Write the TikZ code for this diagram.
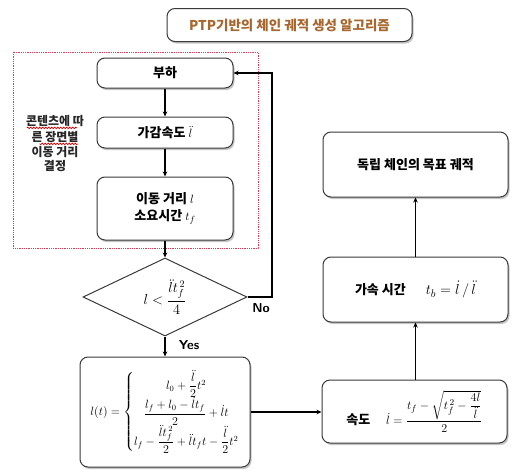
\documentclass[tikz,border=0pt]{standalone}
\usepackage{amsmath}
\usepackage{fontspec}
\newfontfamily\kr{Noto Sans CJK KR}
\usetikzlibrary{shapes.geometric,shadows,arrows.meta,decorations.pathmorphing}
\definecolor{titlebrown}{HTML}{A8672E}
\definecolor{boxline}{HTML}{3A3A3A}
\definecolor{dotred}{HTML}{D0405A}
\begin{document}
\begin{tikzpicture}[x=1pt,y=-1pt,
  box/.style={draw=boxline, line width=1pt, rounded corners=8pt, fill=white,
    drop shadow={opacity=0.45, shadow xshift=1.5pt, shadow yshift=-2pt},
    align=center, font=\kr\bfseries\fontsize{13}{16}\selectfont, inner sep=2pt},
  conn/.style={draw=black, line width=1.1pt, -{Stealth[length=5pt,width=4.5pt]}},
  lbl/.style={font=\sffamily\bfseries\fontsize{13}{15}\selectfont},
  notetxt/.style={font=\kr\bfseries\fontsize{12}{14}\selectfont, text=black!85, inner sep=0pt},
  squiggle/.style={draw=red!80!black, line width=0.7pt, decorate, decoration={snake, amplitude=0.7pt, segment length=3pt}}]
\useasboundingbox (0,0) rectangle (517,469);
\fill[white] (0,0) rectangle (517,469);
% title
\node[box, minimum width=245pt, minimum height=33pt, text=titlebrown, font=\kr\bfseries\fontsize{13.5}{16}\selectfont] (title) at (289.5,25) {PTP기반의 체인 궤적 생성 알고리즘};
% red dotted frame
\draw[dotred, densely dotted, line width=0.8pt] (13,52) rectangle (258,248);
\node[notetxt] (note1) at (55,121) {콘텐츠에 따};
\node[notetxt] (note2) at (55,137) {른 장면별};
\node[notetxt] (note3) at (55,152) {이동 거리};
\node[notetxt] (note4) at (55,166) {결정};
\draw[squiggle] (note1.south west) ++(1,1) -- ++(50,0);
\draw[squiggle] (note2.south east) ++(-1,1) -- ++(-38,0);
% boxes
\node[box, minimum width=136pt, minimum height=30pt] (buha) at (165,73) {부하};
\node[box, minimum width=136pt, minimum height=31pt] (accel) at (165,132.5) {가감속도 {\mdseries\fontsize{13}{15}\selectfont$\ddot{l}$}};
\node[box, minimum width=136pt, minimum height=63pt] (move) at (165,208.5) {이동 거리 {\mdseries\fontsize{13}{15}\selectfont$l$}\\[1pt]소요시간 {\mdseries\fontsize{13}{15}\selectfont$t_f$}};
\node[draw=boxline, line width=1pt, shape=diamond, fill=white, minimum width=164pt, minimum height=78pt, inner sep=0pt, font=\fontsize{14}{16}\selectfont] (dia) at (165,297) {$l<\dfrac{\ddot{l}t_f^{\,2}}{4}$};
\node[box, minimum width=170pt, minimum height=110pt, font=\fontsize{12}{14}\selectfont, inner sep=0pt] (lt) at (165,412)
  {$l(t)=\left\{\begin{array}{@{}c@{}}
     l_0+\dfrac{\ddot{l}}{2}t^2\\[2pt]
     \dfrac{l_f+l_0-\dot{l}t_f}{2}+\dot{l}t\\[4pt]
     l_f-\dfrac{\ddot{l}t_f^{\,2}}{2}+\ddot{l}t_f t-\dfrac{\ddot{l}}{2}t^2
   \end{array}\right.$};
\node[box, minimum width=185pt, minimum height=63pt] (vel) at (414.5,411.5)
  {속도\hspace{16pt}{\mdseries\fontsize{13}{15}\selectfont$\dot{l}=\dfrac{t_f-\sqrt{t_f^{\,2}-\dfrac{4l}{\ddot{l}}}}{2}$}};
\node[box, minimum width=185pt, minimum height=65pt] (acct) at (415.5,289.5)
  {가속 시간\hspace{20pt}{\mdseries\fontsize{15}{17}\selectfont$t_b=\dot{l}\,/\,\ddot{l}$}};
\node[box, minimum width=185pt, minimum height=65pt] (goal) at (415.5,164.5) {독립 체인의 목표 궤적};
% connectors
\coordinate (loopx) at (272,0);
\draw[conn] (buha) -- (accel);
\draw[conn] (accel) -- (move);
\draw[conn] (move) -- (dia);
\draw[conn] (dia) -- (lt);
\draw[conn] (dia.east) -- (dia.east -| loopx) |- (buha.east);
\draw[conn] (lt.east) -- (vel.west |- lt.east);
\draw[conn] (vel.north -| acct.south) -- (acct.south);
\draw[conn] (acct) -- (goal);
% labels
\node[lbl] (no) at (261,308) {No};
\node[lbl] (yes) at (189,345) {Yes};
\end{tikzpicture}
\end{document}
